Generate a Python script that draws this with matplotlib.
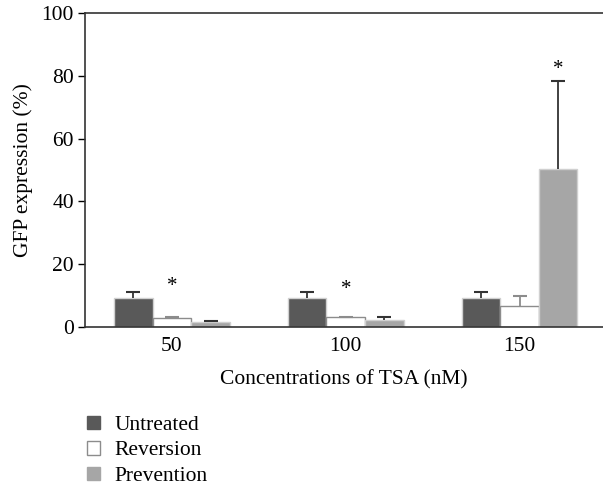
import numpy as np
import matplotlib.pyplot as plt
from matplotlib.patches import Patch

plt.rcParams['font.family'] = ['Liberation Serif', 'DejaVu Serif']

concentrations = ["50", "100", "150"]
series = ["Untreated", "Reversion", "Prevention"]
untreated = [9.1, 9.1, 9.1]
untreated_err = [2.2, 2.2, 2.2]
reversion = [3.0, 3.1, 6.6]
reversion_err = [0.3, 0.2, 3.2]
prevention = [1.5, 2.2, 50.3]
prevention_err = [0.4, 1.0, 27.9]
# asterisks: (group index, series index, height)
stars = [(0, 1, 12.8), (1, 1, 11.8), (2, 2, 82.0)]

colors = ["#595959", "#ffffff", "#a6a6a6"]
edges = ["#d0d0d0", "#8c8c8c", "#d0d0d0"]
err_colors = ["#333333", "#8c8c8c", "#333333"]

fig = plt.figure(figsize=(6.03, 4.88), dpi=100)
ax = fig.add_axes([85 / 603, 1 - 327 / 488, 1 - 85 / 603, 314 / 488])

x = np.arange(len(concentrations))
w = 0.222
vals = [untreated, reversion, prevention]
errs = [untreated_err, reversion_err, prevention_err]
for i in range(3):
    pos = x + (i - 1) * w
    ax.bar(pos, vals[i], w, color=colors[i], edgecolor=edges[i], linewidth=1.0, zorder=2)
    eb = ax.errorbar(pos, vals[i], yerr=[np.zeros(3), errs[i]], fmt="none",
                     ecolor=err_colors[i], elinewidth=1.3, capsize=5, capthick=1.5, zorder=3)
    eb[1][0].set_visible(False)  # hide the lower cap

for g, s, h in stars:
    ax.text(x[g] + (s - 1) * w, h, "*", ha="center", va="center", fontsize=15)

ax.set_xlim(-0.5, 2.48)
ax.set_ylim(0, 100)
ax.set_yticks([0, 20, 40, 60, 80, 100])
ax.set_xticks(x)
ax.set_xticklabels(concentrations)
ax.tick_params(axis="x", length=0, labelsize=15.5, pad=7)
ax.tick_params(axis="y", length=5, width=1, labelsize=15.5, pad=3)
ax.spines["right"].set_visible(False)
for sp in ["left", "top", "bottom"]:
    ax.spines[sp].set_color("#333333")
    ax.spines[sp].set_linewidth(1.2)
ax.set_ylabel("GFP expression (%)", fontsize=15.5, labelpad=6)
ax.set_xlabel("Concentrations of TSA (nM)", fontsize=15.5, labelpad=10)

handles = [Patch(facecolor=colors[i], edgecolor=["#595959", "#8c8c8c", "#a6a6a6"][i], label=series[i])
           for i in range(3)]
fig.legend(handles=handles, loc="upper left", bbox_to_anchor=(78 / 603, 1 - 407 / 488),
           frameon=False, fontsize=15.5, handlelength=0.6, handleheight=0.6,
           handletextpad=0.7, labelspacing=0.28, borderaxespad=0)

fig.savefig("out.png", dpi=100)
